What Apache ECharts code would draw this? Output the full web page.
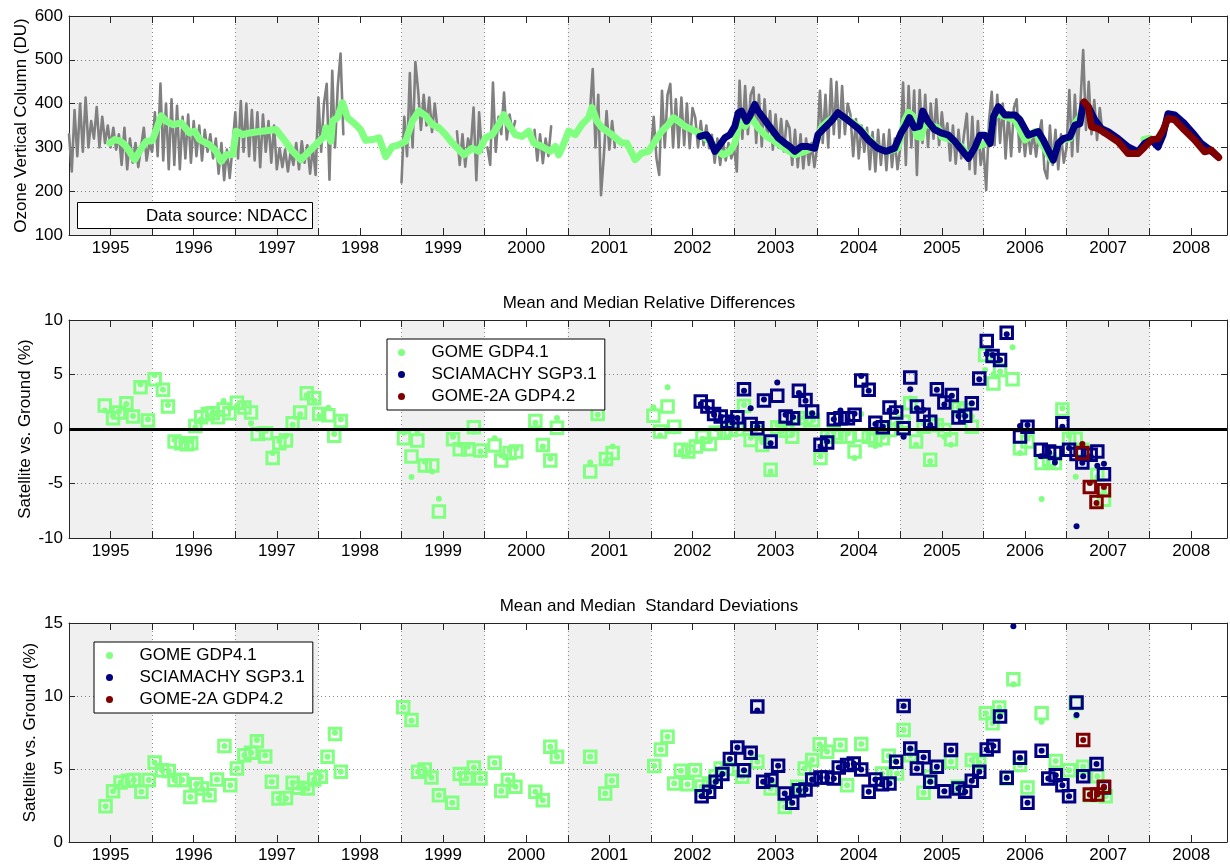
<!DOCTYPE html>
<html>
<head>
<meta charset="utf-8">
<script src="https://cdn.jsdelivr.net/npm/echarts@6.0.0/dist/echarts.min.js"></script>
<style>
  html, body { margin: 0; padding: 0; background: #fff; }
  #chart { width: 1230px; height: 865px; }
</style>
</head>
<body>
<div id="chart"></div>
<script>
// ---------------------------------------------------------------------------
// Ground-based total ozone (NDACC), sampled every 1/30 year from 1995.0.
// null = no ground measurements in that interval.
// ---------------------------------------------------------------------------
const groundStart = 1995;
const groundStep = 1 / 30;
const groundDU = [
  // 1995
  330, 245, 385, 280, 400, 290, 414, 300, 360, 320, 392, 300, 370, 310, 350,
  300, 345, 295, 330, 260, 345, 250, 320, 265, 310, 255, 300, 345, 270, 310,
  // 1996
  290, 380, 280, 446, 270, 400, 250, 410, 260, 395, 250, 370, 275, 375, 265,
  360, 280, 350, 270, 340, 290, 330, 275, 320, 240, 310, 225, 295, 230, 300,
  // 1997
  380, 275, 406, 290, 400, 280, 385, 270, 380, 255, 375, 290, 360, 265, 350,
  250, 298, 255, 295, 245, 290, 260, 310, 250, 314, 265, 305, 240, 300, 237,
  // 1998
  414, 290, 400, 445, 226, 475, 300, 440, 514, 330, null, null, null, null, null,
  null, null, null, null, null, null, null, null, null, null, null, null, null, null, null,
  // 1999
  220, 370, 280, 470, 300, 495, 429, 340, 420, 350, 414, 335, 400, 340, null,
  null, null, null, null, null, 337, 260, 330, 256, 320, 300, 391, 225, 380, 290,
  // 2000
  null, 300, 260, 448, 290, 370, 330, 425, 318, 375, 335, 360, null, null, null,
  null, null, null, 340, 270, 330, 264, 320, 280, 348, null, null, null, null, null,
  // 2001
  null, null, null, null, null, null, null, null, 380, 479, 300, 420, 191, 280, 383,
  295, 360, 300, null, null, null, null, null, null, null, null, null, null, null, null,
  // 2002
  290, 370, 275, 237, 429, 300, 420, 445, 300, 410, 300, 414, 305, 400, 298,
  390, 368, 300, 360, 305, 350, 298, 329, 265, 320, 260, 315, 270, 310, 275,
  // 2003
  300, 245, 452, 320, 440, 330, 420, 437, 310, 420, 302, 410, 320, 383, 295,
  375, 300, 365, 291, 360, 345, 260, 340, 255, 330, 252, 320, 260, 310, 255,
  // 2004
  300, 429, 310, 420, 300, 456, 330, 450, 322, 440, 330, 400, 375, 280, 365,
  275, 350, 290, 345, 250, 335, 245, 340, 260, 330, 248, 340, 255, 320, 250,
  // 2005
  300, 448, 260, 440, 300, 430, 237, 431, 310, 420, 301, 400, 320, 410, 305,
  380, 320, 355, 270, 350, 263, 340, 275, 330, 377, 250, 370, 240, 360, 260,
  // 2006
  300, 203, 360, 427, 305, 420, 310, 400, 275, 380, 280, 390, 410, 290, 347,
  280, 340, 285, 335, 279, 330, 362, 250, 229, 350, 260, 340, 250, 330, 265,
  // 2007
  300, 431, 280, 420, 290, 400, 522, 340, 450, 330, 408, 317, 390, 330
];

// Satellite total ozone columns at the station: [decimal year, DU]
const gomeColumn = [
  [1995.49, 310], [1995.55, 318], [1995.61, 315], [1995.67, 306], [1995.73, 290], [1995.79, 272],
  [1995.87, 298], [1995.93, 314], [1996.0, 315], [1996.05, 340], [1996.11, 372], [1996.17, 360],
  [1996.25, 352], [1996.35, 356], [1996.45, 333], [1996.51, 337], [1996.57, 318], [1996.69, 306],
  [1996.77, 291], [1996.83, 268], [1996.89, 283], [1996.97, 284], [1997.01, 337], [1997.09, 329],
  [1997.17, 333], [1997.25, 335], [1997.37, 338], [1997.49, 341], [1997.57, 322], [1997.69, 291],
  [1997.79, 272], [1997.89, 291], [1998.01, 314], [1998.07, 325], [1998.09, 345], [1998.15, 314],
  [1998.17, 360], [1998.23, 368], [1998.29, 402], [1998.35, 368], [1998.45, 352], [1998.51, 340],
  [1998.57, 316], [1998.65, 318], [1998.73, 322], [1998.81, 279], [1998.89, 302], [1998.97, 306],
  [1999.05, 314], [1999.13, 360], [1999.21, 383], [1999.29, 372], [1999.37, 352], [1999.45, 345],
  [1999.53, 329], [1999.61, 310], [1999.69, 295], [1999.75, 283], [1999.85, 298], [1999.93, 291],
  [2000.01, 322], [2000.09, 329], [2000.17, 352], [2000.23, 375], [2000.29, 352], [2000.37, 329],
  [2000.45, 325], [2000.53, 337], [2000.59, 310], [2000.69, 302], [2000.79, 291], [2000.85, 302],
  [2000.89, 283], [2000.93, 298], [2001.01, 337], [2001.09, 329], [2001.17, 352], [2001.25, 368],
  [2001.29, 391], [2001.35, 360], [2001.41, 345], [2001.53, 329], [2001.65, 310], [2001.71, 310],
  [2001.81, 272], [2001.89, 287], [2001.97, 291], [2002.05, 314], [2002.13, 337], [2002.21, 352],
  [2002.27, 368], [2002.33, 360], [2002.41, 348], [2002.49, 341], [2002.61, 329], [2002.73, 310],
  [2002.81, 291], [2002.87, 283], [2002.95, 291], [2003.01, 310], [2003.07, 360], [2003.13, 348],
  [2003.21, 368], [2003.29, 345], [2003.39, 325], [2003.49, 314], [2003.61, 298], [2003.73, 283],
  [2003.85, 291], [2003.97, 302], [2004.05, 345], [2004.13, 360], [2004.25, 375], [2004.37, 364],
  [2004.49, 348], [2004.61, 322], [2004.73, 298], [2004.85, 291], [2004.97, 298], [2005.05, 360],
  [2005.1, 380], [2005.15, 372], [2005.2, 325], [2005.25, 322], [2005.3, 360], [2005.35, 350],
  [2005.45, 345], [2005.5, 324], [2005.62, 317], [2005.74, 301], [2005.82, 279], [2005.9, 301],
  [2006.02, 309], [2006.08, 320], [2006.12, 370], [2006.18, 377], [2006.26, 370], [2006.38, 363],
  [2006.5, 317], [2006.62, 336], [2006.7, 309], [2006.82, 271], [2006.88, 301], [2006.94, 317],
  [2007.04, 320], [2007.1, 354], [2007.16, 370], [2007.2, 393], [2007.5, null],
  [2007.93, 318], [2008.0, 321], [2008.05, 316]
];

const sciaColumn = [
  [2002.59, 325], [2002.67, 329], [2002.71, 318], [2002.77, 291], [2002.83, 306], [2002.89, 322],
  [2002.95, 329], [2003.01, 348], [2003.05, 379], [2003.09, 383], [2003.15, 360], [2003.19, 372],
  [2003.25, 398], [2003.29, 383], [2003.35, 368], [2003.41, 352], [2003.47, 337], [2003.53, 322],
  [2003.61, 310], [2003.67, 302], [2003.73, 291], [2003.81, 302], [2003.89, 302], [2003.97, 298],
  [2004.01, 329], [2004.09, 345], [2004.17, 360], [2004.25, 379], [2004.33, 368], [2004.41, 356],
  [2004.51, 341], [2004.61, 318], [2004.73, 298], [2004.83, 291], [2004.93, 298], [2005.01, 333],
  [2005.07, 352], [2005.11, 368], [2005.17, 345], [2005.23, 348], [2005.27, 383], [2005.33, 360],
  [2005.41, 341], [2005.49, 333], [2005.58, 328], [2005.66, 313], [2005.74, 294], [2005.82, 275],
  [2005.9, 301], [2005.96, 328], [2006.02, 328], [2006.08, 309], [2006.12, 370], [2006.18, 393],
  [2006.26, 374], [2006.38, 374], [2006.44, 363], [2006.54, 328], [2006.66, 336], [2006.72, 317],
  [2006.8, 286], [2006.84, 271], [2006.9, 309], [2006.96, 320], [2007.04, 324], [2007.1, 351],
  [2007.16, 354], [2007.2, 400], [2007.26, 393], [2007.34, 363], [2007.42, 343], [2007.5, 336],
  [2007.62, 320], [2007.74, 301], [2007.86, 290], [2007.94, 309], [2008.02, 317], [2008.1, 301],
  [2008.16, 328], [2008.22, 377], [2008.3, 374], [2008.42, 354], [2008.54, 328], [2008.62, 309],
  [2008.7, 298], [2008.82, 279]
];

const gome2Column = [
  [2007.21, 404], [2007.26, 393], [2007.3, 347], [2007.38, 343], [2007.5, 328], [2007.62, 313],
  [2007.74, 286], [2007.86, 286], [2007.94, 301], [2008.02, 317], [2008.1, 320], [2008.16, 339],
  [2008.22, 366], [2008.3, 363], [2008.42, 339], [2008.54, 317], [2008.66, 290], [2008.74, 294],
  [2008.83, 277]
];

// ---------------------------------------------------------------------------
// Relative differences satellite vs. ground (%): dates, mean, median
// ---------------------------------------------------------------------------
const gomeDiffYear = [
  1995.43, 1995.53, 1995.60, 1995.69, 1995.77, 1995.86, 1995.95, 1996.03, 1996.13, 1996.19,
  1996.27, 1996.35, 1996.42, 1996.47, 1996.52, 1996.59, 1996.67, 1996.73, 1996.79, 1996.86,
  1996.93, 1997.02, 1997.11, 1997.19, 1997.27, 1997.37, 1997.45, 1997.53, 1997.61, 1997.69,
  1997.78, 1997.86, 1997.95, 1998.01, 1998.12, 1998.19, 1998.27, 1999.03, 1999.12, 1999.19,
  1999.28, 1999.37, 1999.45, 1999.62, 1999.70, 1999.80, 1999.87, 1999.95, 2000.12, 2000.20,
  2000.30, 2000.38, 2000.61, 2000.70, 2000.79, 2000.87, 2001.27, 2001.36, 2001.46, 2001.54,
  2002.03, 2002.11, 2002.20, 2002.28, 2002.36, 2002.45, 2002.54, 2002.62, 2002.71, 2002.78,
  2002.88, 2002.96, 2003.04, 2003.12, 2003.20, 2003.28, 2003.34, 2003.44, 2003.52, 2003.62,
  2003.70, 2003.78, 2003.86, 2003.95, 2004.04, 2004.12, 2004.20, 2004.28, 2004.37, 2004.45,
  2004.53, 2004.62, 2004.70, 2004.79, 2004.87, 2004.95, 2005.04, 2005.12, 2005.19, 2005.28,
  2005.36, 2005.44, 2005.53, 2005.61, 2005.70, 2005.78, 2005.86, 2006.02, 2006.12, 2006.20,
  2006.35, 2006.44, 2006.53, 2006.70, 2006.79, 2006.86, 2006.95, 2007.03, 2007.11, 2007.19,
  2007.37, 2007.45
];
const gomeDiffMean = [
  1.7, 1.2, 1.6, 2.3, 1.2, 4.1, 0.9, 4.96, 3.6, 2.2,
  -1.0, -1.2, -1.5, -1.1, 0.15, 0.9, 1.2, 1.5, 1.3, 2.58,
  1.9, 2.1, 2.2, 0.52, -0.03, -0.15, -2.2, -1.1, -0.65, 0.4,
  1.35, 3.1, 2.6, 1.2, 1.95, -0.46, 0.9, -0.35, -4.41, -0.4,
  -3.0, -3.9, -6.4, -0.7, -1.45, -1.6, -0.24, -2.06, -0.84, -2.4,
  -1.97, -1.8, 0.58, -1.6, -2.7, 1.0, -3.07, 1.3, -2.9, -1.6,
  1.99, -0.6, 3.83, -0.24, -2.06, -2.2, -1.15, -0.9, -1.1, 0.0,
  0.1, 0.2, 0.0, 2.2, -0.8, 0.3, -1.2, -3.9, 0.4, 0.0,
  -0.5, 0.9, 1.3, 0.8, -2.52, -0.6, -0.2, -0.55, -0.4, -2.67,
  1.37, -0.4, -1.55, -0.7, 0.2, 0.5, -0.55, 2.8, -1.45, 0.5,
  -2.97, 0.8, -0.7, -1.45, 2.0, 1.6, 1.15, 5.42, 5.0, 5.27,
  7.5, -2.2, -0.9, -6.43, -2.5, -2.9, 1.9, -0.65, -4.37, -1.7,
  -4.4, -5.6
];
const gomeDiffMedian = [
  2.15, 0.99, 1.51, 2.37, 1.15, 3.83, 0.78, 4.56, 3.59, 2.06,
  -1.15, -1.3, -1.4, -1.3, 0.27, 1.07, 1.37, 1.44, 1.07, 1.8,
  1.44, 2.4, 1.98, 1.51, -0.46, -0.4, -2.67, -1.3, -1.06, 0.52,
  1.51, 3.28, 2.82, 1.37, 1.27, -0.61, 0.73, -0.84, -2.52, -1.06,
  -3.35, -3.35, -7.56, -0.93, -1.85, -1.85, 0.15, -1.97, -1.51, -2.89,
  -2.21, -2.06, 0.73, -1.47, -2.89, 0.12, -3.9, 1.37, -2.76, -2.21,
  1.22, -0.24, 2.06, 0.2, -1.91, -2.06, -1.6, -0.7, -1.37, -0.34,
  -0.34, -0.09, -0.03, 2.12, -1.0, -0.2, -1.47, -3.74, 0.15, -0.15,
  -0.7, 0.5, 1.0, 0.8, -2.67, -0.7, -0.4, -0.7, -0.7, -2.06,
  -0.55, -0.7, -1.0, -0.85, -0.09, 0.52, 0.67, 2.37, -1.15, 0.2,
  -2.82, 0.35, -0.09, -0.93, 1.9, 1.75, 0.2, 6.79, 4.18, 5.42,
  4.56, -1.77, -1.15, -3.13, -2.82, -3.13, 1.8, -0.9, -0.9, -1.9,
  -4.2, -6.49
];

const sciaDiffYear = [
  2002.60, 2002.68, 2002.76, 2002.84, 2002.92, 2002.98, 2003.04, 2003.12, 2003.20, 2003.28,
  2003.36, 2003.44, 2003.52, 2003.62, 2003.71, 2003.78, 2003.86, 2003.94, 2004.04, 2004.12,
  2004.20, 2004.28, 2004.37, 2004.45, 2004.53, 2004.62, 2004.70, 2004.79, 2004.87, 2004.95,
  2005.04, 2005.12, 2005.20, 2005.28, 2005.36, 2005.44, 2005.53, 2005.62, 2005.70, 2005.78,
  2005.86, 2005.95, 2006.04, 2006.11, 2006.20, 2006.28, 2006.44, 2006.53, 2006.69, 2006.79,
  2006.86, 2006.95, 2007.03, 2007.12, 2007.19, 2007.29, 2007.37, 2007.45
];
const sciaDiffMean = [
  2.3, 1.9, 1.3, 1.1, 0.8, 0.6, 1.0, 3.5, 1.9, 0.2,
  2.7, -1.3, 4.26, 1.3, 1.1, 3.3, 2.6, 1.45, -1.6, -1.15,
  0.9, 1.7, 0.8, 1.4, 4.87, 3.5, 0.46, 0.2, 1.7, 1.6,
  -0.7, 3.65, 1.9, 1.75, 0.37, 3.6, 2.25, 3.04, 1.2, 1.2,
  2.37, 4.56, 6.89, 6.8, 6.34, 8.7, 0.27, 0.36, -2.5, -2.15,
  -3.07, 0.2, -1.75, -8.93, -3.1, -2.5, -3.37, -3.19
];
const sciaDiffMedian = [
  2.52, 2.06, 1.37, 1.15, 0.67, 0.52, 1.07, 3.65, 0.46, 0.06,
  2.61, -1.15, 3.04, 1.15, 0.99, 3.5, 2.67, 1.6, -1.45, -1.24,
  0.9, 0.99, 0.99, 1.3, 4.44, 3.59, 0.58, 0.15, 1.98, 1.51,
  0.06, 4.73, 2.06, 1.3, 0.67, 3.65, 2.43, 3.13, 1.05, 1.21,
  2.37, 4.64, 8.08, 6.7, 6.34, 8.84, -0.69, 0.21, -1.91, -2.06,
  -2.21, 0.52, -1.91, -2.3, -3.07, -2.37, -2.06, -4.14
];

const gome2DiffYear = [2007.19, 2007.28, 2007.36, 2007.45];
const gome2DiffMean = [-1.37, -4.96, -6.8, -5.33];
const gome2DiffMedian = [-2.21, -5.33, -6.7, -5.63];

// ---------------------------------------------------------------------------
// Standard deviations satellite vs. ground (%): dates, mean, median
// ---------------------------------------------------------------------------
const gomeStdYear = [
  1995.44, 1995.53, 1995.62, 1995.71, 1995.78, 1995.87, 1995.96, 1996.03, 1996.12, 1996.20,
  1996.27, 1996.36, 1996.46, 1996.53, 1996.60, 1996.69, 1996.78, 1996.87, 1996.94, 1997.02,
  1997.11, 1997.19, 1997.26, 1997.36, 1997.44, 1997.52, 1997.61, 1997.69, 1997.76, 1997.87,
  1997.95, 1998.03, 1998.11, 1998.20, 1998.27, 1999.02, 1999.12, 1999.20, 1999.28, 1999.36,
  1999.45, 1999.61, 1999.70, 1999.78, 1999.87, 1999.95, 2000.12, 2000.20, 2000.28, 2000.37,
  2000.61, 2000.70, 2000.79, 2000.87, 2001.27, 2001.45, 2001.53, 2002.04, 2002.12, 2002.20,
  2002.28, 2002.36, 2002.44, 2002.53, 2002.61, 2002.70, 2002.78, 2002.84, 2002.92, 2003.10,
  2003.28, 2003.44, 2003.61, 2003.76, 2003.85, 2003.94, 2004.03, 2004.12, 2004.28, 2004.36,
  2004.53, 2004.78, 2004.86, 2004.96, 2005.04, 2005.12, 2005.28, 2005.36, 2005.61, 2005.69,
  2005.86, 2005.95, 2006.03, 2006.11, 2006.19, 2006.28, 2006.36, 2006.44, 2006.53, 2006.70,
  2006.87, 2007.03, 2007.11, 2007.20, 2007.28, 2007.37, 2007.47
];
const gomeStdMean = [
  2.45, 3.48, 4.08, 4.08, 4.24, 3.44, 4.24, 5.45, 4.92, 4.86,
  4.24, 4.24, 3.09, 3.96, 3.67, 3.21, 4.28, 6.57, 3.89, 5.04,
  5.95, 6.11, 6.98, 5.95, 4.12, 2.98, 2.98, 4.05, 3.71, 3.67,
  4.28, 4.47, 5.84, 7.49, 4.81, 9.23, 8.3, 4.81, 4.97, 4.42,
  3.21, 2.68, 4.65, 4.35, 5.11, 4.35, 5.43, 3.5, 4.24, 3.78,
  3.44, 2.86, 6.53, 5.84, 5.84, 3.32, 4.19, 5.2, 6.34, 7.21,
  4.01, 4.88, 3.96, 4.92, 3.8, 4.0, 4.5, 5.04, 5.0, 4.47,
  5.5, 3.67, 2.4, 3.78, 5.04, 5.61, 6.7, 6.18, 6.64, 3.89,
  6.71, 4.7, 5.91, 4.7, 7.67, 5.95, 3.37, 4.47, 5.5, 3.78,
  5.61, 5.43, 8.82, 8.13, 9.21, 4.35, 10.8, 5.27, 3.73, 8.24,
  5.54, 4.92, 8.6, 5.15, 3.21, 4.51, 3.14
];
const gomeStdMedian = [
  2.45, 3.48, 4.08, 4.2, 4.24, 3.44, 4.24, 5.45, 4.92, 4.86,
  4.24, 4.24, 3.09, 3.96, 3.67, 3.21, 4.28, 6.57, 3.89, 5.04,
  5.95, 6.11, 6.9, 5.85, 4.12, 2.98, 3.02, 4.05, 3.71, 3.67,
  4.28, 4.47, 5.84, 7.4, 4.81, 9.23, 8.36, 4.81, 4.97, 4.42,
  3.21, 2.68, 4.65, 4.35, 5.11, 4.35, 5.43, 3.5, 4.24, 3.78,
  3.44, 2.86, 6.53, 5.84, 5.84, 3.32, 4.19, 5.2, 6.34, 7.21,
  4.01, 4.88, 3.96, 4.92, 3.8, 4.0, 4.5, 5.04, 5.0, 4.47,
  5.5, 3.67, 2.4, 3.78, 5.04, 5.61, 6.7, 6.18, 6.64, 3.89,
  6.71, 4.7, 5.91, 4.7, 7.67, 5.95, 3.37, 4.47, 5.5, 3.78,
  5.61, 5.43, 8.82, 8.13, 9.21, 4.35, 11.15, 5.27, 3.73, 8.82,
  5.54, 4.92, 9.5, 5.15, 3.21, 4.51, 3.14
];

const sciaStdYear = [
  2002.61, 2002.70, 2002.78, 2002.86, 2002.95, 2003.04, 2003.12, 2003.20, 2003.28, 2003.35,
  2003.45, 2003.53, 2003.61, 2003.70, 2003.78, 2003.86, 2003.94, 2004.04, 2004.12, 2004.20,
  2004.26, 2004.36, 2004.44, 2004.53, 2004.62, 2004.70, 2004.78, 2004.87, 2004.95, 2005.04,
  2005.12, 2005.20, 2005.28, 2005.36, 2005.44, 2005.53, 2005.61, 2005.70, 2005.78, 2005.86,
  2005.95, 2006.04, 2006.12, 2006.20, 2006.28, 2006.36, 2006.44, 2006.53, 2006.70, 2006.78,
  2006.87, 2006.95, 2007.03, 2007.12, 2007.20, 2007.36, 2007.45
];
const sciaStdMean = [
  3.14, 3.44, 4.12, 4.65, 5.68, 6.48, 4.92, 6.11, 9.0, 4.12,
  4.24, 5.22, 3.32, 2.68, 3.55, 3.6, 4.28, 4.42, 4.42, 4.35,
  5.1, 5.27, 5.38, 4.97, 3.44, 4.28, 3.96, 4.0, 5.5, 9.32,
  6.41, 5.04, 5.8, 4.12, 5.15, 3.48, 6.3, 3.67, 3.44, 4.19,
  4.81, 6.34, 6.57, 8.59, 4.4, 14.77, 5.77, 2.68, 6.25, 4.35,
  4.58, 3.89, 3.14, 8.7, 4.51, 5.34, 3.73
];
const sciaStdMedian = [
  3.14, 3.44, 4.12, 4.65, 5.68, 6.48, 4.92, 6.11, 9.28, 4.12,
  4.24, 5.22, 3.32, 2.68, 3.55, 3.6, 4.28, 4.42, 4.42, 4.35,
  5.1, 5.27, 5.38, 4.97, 3.44, 4.28, 3.96, 4.0, 5.5, 9.32,
  6.41, 5.04, 5.8, 4.12, 5.15, 3.48, 6.3, 3.67, 3.44, 4.19,
  4.81, 6.34, 6.57, 8.59, 4.4, null, 5.77, 2.68, 6.25, 4.35,
  4.58, 3.89, 3.14, 9.55, 4.51, 5.34, 3.73
];

const gome2StdYear = [2007.20, 2007.28, 2007.37, 2007.45];
const gome2StdMean = [6.98, 3.25, 3.25, 3.78];
const gome2StdMedian = [6.98, 3.25, 3.25, 3.78];

// Axis tick values
const diffTicks = [-10, -5, 0, 5, 10];
const stdTicks = [0, 5, 10, 15];
const columnTicks = [100, 200, 300, 400, 500, 600];

// ---------------------------------------------------------------------------
const NAMES = ['GOME GDP4.1', 'SCIAMACHY SGP3.1', 'GOME-2A GDP4.2'];
const COLORS = { gome: '#80ff80', scia: '#000080', gome2: '#800000', ground: '#808080' };
const FONT = '"Liberation Sans", Arial, Helvetica, sans-serif';
const AXIS_COLOR = '#262626';
const GRID_LINE = { color: '#8a8a8a', width: 1, type: [1, 3] };
const X_MIN = 1995, X_MAX = 2008.93;

const grids = [
  { left: 69, top: 16, width: 1160, height: 219 },
  { left: 69, top: 320, width: 1160, height: 218 },
  { left: 69, top: 623, width: 1160, height: 219 }
];

function isMidYear(v) {
  return Math.abs(v - Math.floor(v) - 0.5) < 1e-6;
}

function xAxesFor(g) {
  const base = { gridIndex: g, type: 'value', min: X_MIN, max: X_MAX };
  const line = { show: true, onZero: false, lineStyle: { color: AXIS_COLOR, width: 1 } };
  const tick = { show: true, inside: true, length: 7, lineStyle: { color: AXIS_COLOR } };
  return [
    Object.assign({}, base, {
      position: 'bottom', interval: 0.5, axisLine: line, axisTick: tick,
      axisLabel: {
        margin: 5, color: '#000', fontSize: 17, fontFamily: FONT,
        formatter: v => isMidYear(v) ? String(Math.floor(v)) : ''
      },
      splitLine: { show: false }
    }),
    Object.assign({}, base, {
      position: 'top', interval: 0.5, axisLine: line, axisTick: tick,
      axisLabel: { show: false }, splitLine: { show: false }
    }),
    // year boundaries: dotted lines and alternating shading
    Object.assign({}, base, {
      position: 'bottom', interval: 1,
      axisLine: { show: false, onZero: false }, axisTick: { show: false }, axisLabel: { show: false },
      splitLine: { show: true, lineStyle: GRID_LINE },
      splitArea: { show: true, areaStyle: { color: ['rgba(0,0,0,0.059)', 'rgba(0,0,0,0)'] } }
    })
  ];
}

function yAxesFor(g, ticks, name, nameGap) {
  const base = {
    gridIndex: g, type: 'value',
    min: ticks[0], max: ticks[ticks.length - 1], interval: ticks[1] - ticks[0]
  };
  const line = { show: true, onZero: false, lineStyle: { color: AXIS_COLOR, width: 1 } };
  const tick = { show: true, inside: true, length: 6, lineStyle: { color: AXIS_COLOR } };
  return [
    Object.assign({}, base, {
      position: 'left', name: name, nameLocation: 'middle', nameGap: nameGap,
      nameMoveOverlap: false,
      nameTextStyle: { color: '#000', fontSize: 17, fontFamily: FONT },
      axisLine: line, axisTick: tick,
      axisLabel: { margin: 6, color: '#000', fontSize: 17, fontFamily: FONT },
      splitLine: { show: true, lineStyle: GRID_LINE }
    }),
    Object.assign({}, base, {
      position: 'right', axisLine: line, axisTick: tick,
      axisLabel: { show: false }, splitLine: { show: false }
    })
  ];
}

function pairs(xs, ys) {
  const out = [];
  xs.forEach((x, i) => { if (ys[i] !== null && ys[i] !== undefined) out.push([x, ys[i]]); });
  return out;
}

function columnLine(name, data, color, width, z) {
  return {
    name: name, type: 'line', xAxisIndex: 0, yAxisIndex: 0, data: data,
    showSymbol: false, symbol: 'none', connectNulls: false, silent: true, z: z,
    lineStyle: { color: color, width: width, cap: 'round', join: 'round' },
    itemStyle: { color: color }
  };
}

function meanDots(name, grid, xs, ys, color, z) {
  return {
    name: name, type: 'scatter', xAxisIndex: grid * 3, yAxisIndex: grid * 2,
    data: pairs(xs, ys), symbol: 'circle', symbolSize: 6, silent: true, z: z,
    itemStyle: { color: color, opacity: 1 }
  };
}

function medianSquares(name, grid, xs, ys, color, z) {
  return {
    name: name + ' median', type: 'scatter', xAxisIndex: grid * 3, yAxisIndex: grid * 2,
    data: pairs(xs, ys), symbol: 'rect', symbolSize: 11.5, silent: true, z: z,
    itemStyle: { color: 'rgba(0,0,0,0)', borderColor: color, borderWidth: 3, opacity: 1 }
  };
}

const groundData = groundDU.map((v, i) => [groundStart + i * groundStep, v]);

const legendBase = {
  orient: 'vertical', data: NAMES, icon: 'circle',
  itemWidth: 50, itemHeight: 7, itemGap: 5,
  backgroundColor: '#fff', borderColor: '#000', borderWidth: 1, borderRadius: 0,
  selectedMode: false,
  textStyle: { color: '#000', fontSize: 17, fontFamily: FONT, lineHeight: 17 }
};

const diffZero = medianSquares(NAMES[0], 1, gomeDiffYear, gomeDiffMedian, COLORS.gome, 3);
diffZero.markLine = {
  silent: true, symbol: 'none', label: { show: false },
  lineStyle: { color: '#000', width: 3, type: 'solid' },
  data: [{ yAxis: 0 }]
};

const option = {
  animation: false,
  backgroundColor: '#fff',
  textStyle: { fontFamily: FONT },
  grid: grids,
  xAxis: [].concat(xAxesFor(0), xAxesFor(1), xAxesFor(2)),
  yAxis: [].concat(
    yAxesFor(0, columnTicks, 'Ozone Vertical Column (DU)', 39),
    yAxesFor(1, diffTicks, 'Satellite vs. Ground (%)', 35),
    yAxesFor(2, stdTicks, 'Satellite vs. Ground (%)', 30)
  ),
  legend: [
    Object.assign({}, legendBase, { left: 387, top: 339, padding: [5, 8, 5, 11] }),
    Object.assign({}, legendBase, { left: 94, top: 642, padding: [5, 8, 5, 12] })
  ],
  graphic: [
    { type: 'rect', z: 100, shape: { x: 77.5, y: 202.5, width: 235, height: 26 },
      style: { fill: '#fff', stroke: '#000', lineWidth: 1 } },
    { type: 'text', z: 101, x: 146, y: 216,
      style: { text: 'Data source: NDACC', fill: '#000', fontSize: 17, fontFamily: FONT,
               align: 'left', verticalAlign: 'middle' } },
    { type: 'text', z: 101, x: 649, y: 303,
      style: { text: 'Mean and Median Relative Differences', fill: '#000', fontSize: 17,
               fontFamily: FONT, align: 'center', verticalAlign: 'middle' } },
    { type: 'text', z: 101, x: 649, y: 606,
      style: { text: 'Mean and Median  Standard Deviations', fill: '#000', fontSize: 17,
               fontFamily: FONT, align: 'center', verticalAlign: 'middle' } }
  ],
  series: [
    // total column time series
    columnLine('Ground NDACC', groundData, COLORS.ground, 2.6, 2),
    columnLine('GOME column', gomeColumn, COLORS.gome, 7, 3),
    columnLine('SCIAMACHY column', sciaColumn, COLORS.scia, 7, 4),
    columnLine('GOME-2A column', gome2Column, COLORS.gome2, 7, 5),

    // relative differences
    diffZero,
    meanDots(NAMES[0], 1, gomeDiffYear, gomeDiffMean, COLORS.gome, 3),
    medianSquares(NAMES[1], 1, sciaDiffYear, sciaDiffMedian, COLORS.scia, 4),
    meanDots(NAMES[1], 1, sciaDiffYear, sciaDiffMean, COLORS.scia, 4),
    medianSquares(NAMES[2], 1, gome2DiffYear, gome2DiffMedian, COLORS.gome2, 5),
    meanDots(NAMES[2], 1, gome2DiffYear, gome2DiffMean, COLORS.gome2, 5),

    // standard deviations
    medianSquares(NAMES[0], 2, gomeStdYear, gomeStdMedian, COLORS.gome, 3),
    meanDots(NAMES[0], 2, gomeStdYear, gomeStdMean, COLORS.gome, 3),
    medianSquares(NAMES[1], 2, sciaStdYear, sciaStdMedian, COLORS.scia, 4),
    meanDots(NAMES[1], 2, sciaStdYear, sciaStdMean, COLORS.scia, 4),
    medianSquares(NAMES[2], 2, gome2StdYear, gome2StdMedian, COLORS.gome2, 5),
    meanDots(NAMES[2], 2, gome2StdYear, gome2StdMean, COLORS.gome2, 5)
  ]
};

const chart = echarts.init(document.getElementById('chart'), null, { renderer: 'canvas' });
chart.setOption(option);
</script>
</body>
</html>
